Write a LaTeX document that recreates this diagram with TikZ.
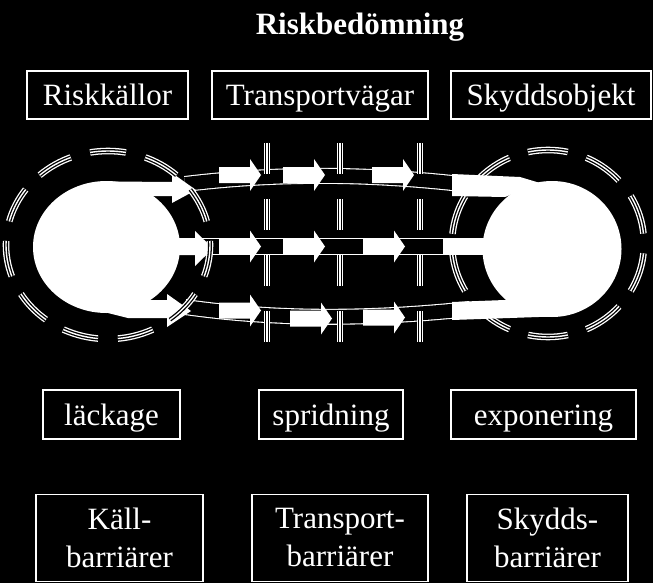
\documentclass[tikz,border=0pt]{standalone}
\usepackage{fontspec}
\setmainfont{Liberation Serif}
\newcommand\tripath[2]{%
  \draw[white,line width=6.6pt,line cap=butt,#1] #2;
  \draw[black,line width=4pt,line cap=butt,#1] #2;
  \draw[white,line width=1.4pt,line cap=butt,#1] #2;}
\tikzset{
  sarrow/.pic={\fill[white] (0,-8) -- (31,-8) -- (31,-16) -- (42,0) -- (31,16) -- (31,8) -- (0,8) -- cycle;}
}
\begin{document}
\begin{tikzpicture}[x=1pt,y=-1pt,
  box/.style={draw=white,line width=1.2pt,text=white,inner sep=0pt,
    font=\fontsize{31}{38}\selectfont,align=center},
  onebox/.style={box,text height=22pt,text depth=0pt},
  band/.style={draw=white,line width=1.1pt,double=black,double distance=13.8pt},
  blob/.style={fill=white,draw=none}
]
\fill[black] (0,0) rectangle (653,583);
\useasboundingbox (0,0) rectangle (653,583);

% title
\node[text=white,font=\bfseries\fontsize{31}{36}\selectfont,anchor=base,inner sep=0pt] (title) at (360,35) {Riskbedömning};

% right ring (under the blocks)
\tripath{dash pattern=on 40pt off 19.5pt,dash phase=49.5pt}{(548,243.5) ellipse [x radius=96pt,y radius=93.5pt]}

% bands
\draw[band] (185,184) .. controls (276,173) and (368,173) .. (470,185);
\draw[band,double distance=15.4pt] (175,246.5) -- (490,246.5);
\draw[band] (185,307) .. controls (275,319.7) and (367,319.7) .. (470,309);

% barriers
\foreach \bx in {267,340,420}{
  \tripath{dash pattern=on 31pt off 25pt}{(\bx,143) -- (\bx,342)}
}

% source and target
\fill[white] (106.5,247) ellipse [x radius=73.5pt,y radius=66pt];
\fill[white] (552,249) ellipse [x radius=69.5pt,y radius=68pt];

% small arrows
\pic at (219,175) {sarrow};
\pic at (283,175) {sarrow};
\pic at (372,175) {sarrow};
\pic at (219,246.5) {sarrow};
\pic at (283,246.5) {sarrow};
\pic at (363,246.5) {sarrow};
\pic at (219,310.5) {sarrow};
\pic at (290,318.5) {sarrow};
\pic at (363,317.5) {sarrow};

% big arrows out of the source
\fill[blob] (112,181.5) -- (172,182) -- (172,173) -- (196,190) -- (172,203) -- (172,196) -- (130,196) -- cycle;
\fill[blob] (160,238) -- (195,238) -- (195,231) -- (213,248.5) -- (195,266) -- (195,255) -- (160,255) -- cycle;
\fill[blob] (110,300) -- (167,300) -- (167,294) -- (191,311) -- (167,327) -- (167,318) -- (128,318) -- (108,313) -- cycle;

% blocks into the target
\fill[blob] (452,174) -- (520,177) -- (540,183) -- (505,197) -- (452,196) -- cycle;
\fill[blob] (443,239) -- (495,239) -- (495,254) -- (443,254) -- cycle;
\fill[blob] (452,302) -- (505,300) -- (553,300) -- (553,316.5) -- (452,320) -- cycle;

% left ring (over the arrows)
\tripath{dash pattern=on 36pt off 20pt,dash phase=32pt}{(108,245) ellipse [x radius=102pt,y radius=94pt]}

% boxes
\node[onebox,minimum width=161pt,minimum height=48pt] (riskkallor) at (107.5,95) {Riskkällor};
\node[onebox,minimum width=216pt,minimum height=48pt] (transportvagar) at (320,95) {Transportvägar};
\node[onebox,minimum width=200pt,minimum height=48pt] (skyddsobjekt) at (551,95) {Skyddsobjekt};
\node[onebox,minimum width=137pt,minimum height=49pt] (lackage) at (111.5,414.5) {läckage};
\node[onebox,minimum width=144pt,minimum height=49pt] (spridning) at (331,414.5) {spridning};
\node[onebox,minimum width=185pt,minimum height=49pt] (exponering) at (543.5,414.5) {exponering};
\node[box,minimum width=167pt,minimum height=87pt] (kallb) at (119.5,537.75) {Käll-\\barriärer};
\node[box,minimum width=176pt,minimum height=87pt] (transpb) at (340,537.75) {Transport-\\barriärer};
\node[box,minimum width=161pt,minimum height=87pt] (skyddsb) at (547.5,537.75) {Skydds-\\barriärer};
\end{tikzpicture}
\end{document}
